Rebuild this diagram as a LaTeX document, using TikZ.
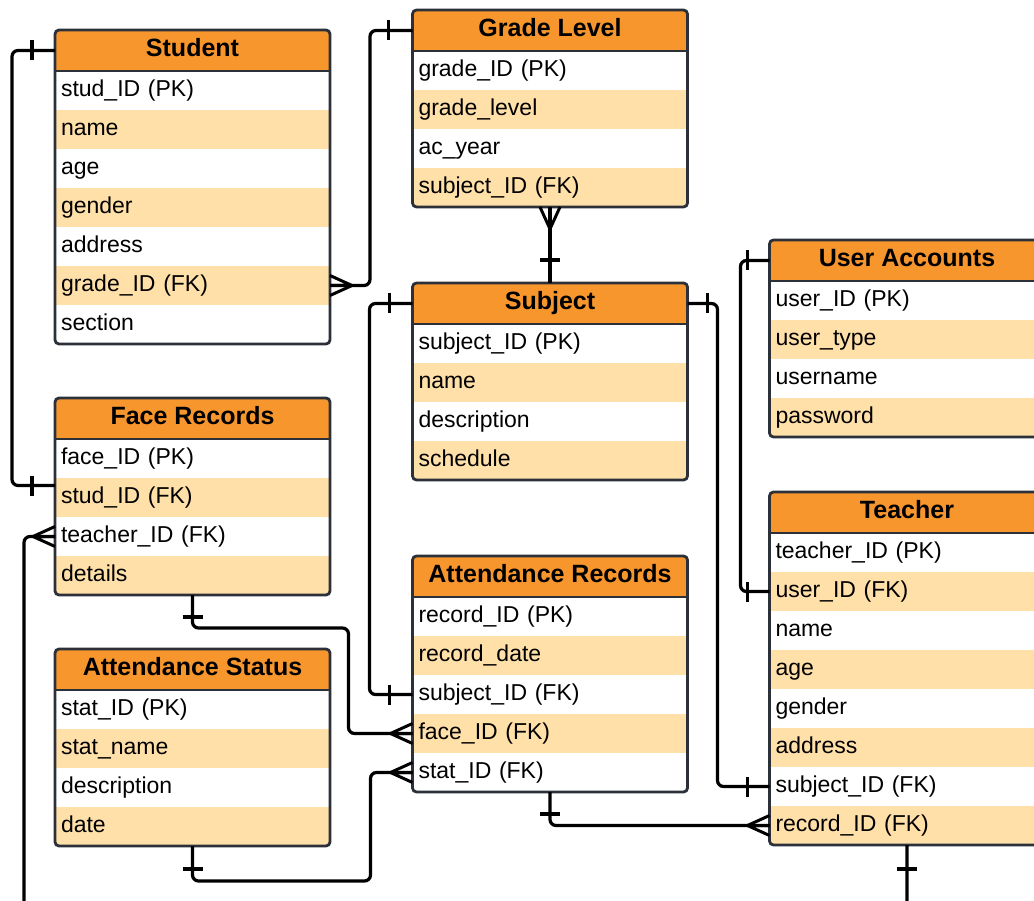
\documentclass[tikz,border=0pt]{standalone}
\usepackage{fontspec}
\setmainfont{Liberation Sans}
\usetikzlibrary{positioning,fit}

\definecolor{headfill}{HTML}{F8962E}
\definecolor{rowfill}{HTML}{FFE0A9}
\definecolor{framecol}{HTML}{2C3038}

\begin{document}
\begin{tikzpicture}[
		x=1pt, y=-1pt,
		head/.style     = {fill=headfill, rounded corners=4pt, minimum width=275pt, minimum height=41pt, text height=18pt, text depth=6pt, inner sep=0pt, outer sep=0pt, font=\fontsize{25}{28}\selectfont\bfseries},
		field/.style    = {minimum width=275pt, minimum height=39pt, text width=263pt, text height=17pt, text depth=5pt, inner xsep=6pt, inner ysep=0pt, outer sep=0pt, align=left, font=\fontsize{23}{26}\selectfont},
		stripe 1/.style = {fill=white},
		stripe 0/.style = {fill=rowfill},
		frame/.style    = {draw=framecol, line width=2.8pt, rounded corners=4pt, inner sep=0pt, outer sep=0pt},
		rel/.style      = {line width=3.2pt, rounded corners=6pt},
		bar/.pic        = {\draw[line width=3.2pt] (0,-10) -- (0,10);},
		crow/.pic       = {\draw[line width=3pt] (-22,0) -- (0,-10) (-22,0) -- (0,0) (-22,0) -- (0,10);}]
		
		\useasboundingbox (0,0) rectangle (1034,901);
		\clip (0,0) rectangle (1034,901);
		
		% Student table
		\node[head] (student) at (192.5,50.5) {Student};
		\foreach \f [count=\i] in {stud\_ID (PK), name, age, gender, address, grade\_ID (FK), section}{
			\pgfmathtruncatemacro\p{mod(\i,2)}
			\node[field, stripe \p] (student\i) at ([yshift={-39*(\i-0.5)}]student.south) {\f};
		}
		\node[frame, fit=(student)(student7)] (student-box) {};
		\draw[frame] (student.south west) -- (student.south east);
		
		% Grade Level table
		\node[head] (grade) at (550,30.5) {Grade Level};
		\foreach \f [count=\i] in {grade\_ID (PK), grade\_level, ac\_year, subject\_ID (FK)}{
			\pgfmathtruncatemacro\p{mod(\i,2)}
			\node[field, stripe \p] (grade\i) at ([yshift={-39*(\i-0.5)}]grade.south) {\f};
		}
		\node[frame, fit=(grade)(grade4)] (grade-box) {};
		\draw[frame] (grade.south west) -- (grade.south east);
		
		% Subject table
		\node[head] (subject) at (550,303.5) {Subject};
		\foreach \f [count=\i] in {subject\_ID (PK), name, description, schedule}{
			\pgfmathtruncatemacro\p{mod(\i,2)}
			\node[field, stripe \p] (subject\i) at ([yshift={-39*(\i-0.5)}]subject.south) {\f};
		}
		\node[frame, fit=(subject)(subject4)] (subject-box) {};
		\draw[frame] (subject.south west) -- (subject.south east);
		
		% User Accounts table
		\node[head] (user) at (907,260.5) {User Accounts};
		\foreach \f [count=\i] in {user\_ID (PK), user\_type, username, password}{
			\pgfmathtruncatemacro\p{mod(\i,2)}
			\node[field, stripe \p] (user\i) at ([yshift={-39*(\i-0.5)}]user.south) {\f};
		}
		\node[frame, fit=(user)(user4)] (user-box) {};
		\draw[frame] (user.south west) -- (user.south east);
		
		% Face Records table
		\node[head] (face) at (192.5,418.5) {Face Records};
		\foreach \f [count=\i] in {face\_ID (PK), stud\_ID (FK), teacher\_ID (FK), details}{
			\pgfmathtruncatemacro\p{mod(\i,2)}
			\node[field, stripe \p] (face\i) at ([yshift={-39*(\i-0.5)}]face.south) {\f};
		}
		\node[frame, fit=(face)(face4)] (face-box) {};
		\draw[frame] (face.south west) -- (face.south east);
		
		% Attendance Records table
		\node[head] (record) at (550,576.5) {Attendance Records};
		\foreach \f [count=\i] in {record\_ID (PK), record\_date, subject\_ID (FK), face\_ID (FK), stat\_ID (FK)}{
			\pgfmathtruncatemacro\p{mod(\i,2)}
			\node[field, stripe \p] (record\i) at ([yshift={-39*(\i-0.5)}]record.south) {\f};
		}
		\node[frame, fit=(record)(record5)] (record-box) {};
		\draw[frame] (record.south west) -- (record.south east);
		
		% Attendance Status table
		\node[head] (status) at (192.5,669.5) {Attendance Status};
		\foreach \f [count=\i] in {stat\_ID (PK), stat\_name, description, date}{
			\pgfmathtruncatemacro\p{mod(\i,2)}
			\node[field, stripe \p] (status\i) at ([yshift={-39*(\i-0.5)}]status.south) {\f};
		}
		\node[frame, fit=(status)(status4)] (status-box) {};
		\draw[frame] (status.south west) -- (status.south east);
		
		% Teacher table
		\node[head] (teacher) at (907,512.5) {Teacher};
		\foreach \f [count=\i] in {teacher\_ID (PK), user\_ID (FK), name, age, gender, address, subject\_ID (FK), record\_ID (FK)}{
			\pgfmathtruncatemacro\p{mod(\i,2)}
			\node[field, stripe \p] (teacher\i) at ([yshift={-39*(\i-0.5)}]teacher.south) {\f};
		}
		\node[frame, fit=(teacher)(teacher8)] (teacher-box) {};
		\draw[frame] (teacher.south west) -- (teacher.south east);
		
		% relationships, one side marked with a bar, many side with a crow's foot
		\draw[rel] (student.west) -- ++(-43,0) |- ([yshift=12pt]face2.west);
		\pic at ([xshift=-23pt]student.west) {bar};
		\pic at ([xshift=-23pt,yshift=12pt]face2.west) {bar};
		
		\draw[rel] (student6.east) -- ++(40,0) |- (grade.west);
		\pic[xscale=-1] at (student6.east) {crow};
		\pic at ([xshift=-24pt]grade.west) {bar};
		
		\draw[rel] (grade-box.south) -- (subject.north);
		\pic[rotate=90] at (grade-box.south) {crow};
		\pic[rotate=90] at ([yshift=23pt]subject.north) {bar};
		
		\draw[rel] (subject.west) -- ++(-43,0) |- (record3.west);
		\pic at ([xshift=-23pt]subject.west) {bar};
		\pic at ([xshift=-23pt]record3.west) {bar};
		
		\draw[rel] (subject.east) -- ++(30,0) |- (teacher7.west);
		\pic at ([xshift=20pt]subject.east) {bar};
		\pic at ([xshift=-22pt]teacher7.west) {bar};
		
		\draw[rel] (user.west) -- ++(-29,0) |- (teacher2.west);
		\pic at ([xshift=-22pt]user.west) {bar};
		\pic at ([xshift=-22pt]teacher2.west) {bar};
		
		\draw[rel] (face-box.south) -- ++(0,33) -- ++(156,0) |- (record4.west);
		\pic[rotate=90] at ([yshift=-22pt]face-box.south) {bar};
		\pic at (record4.west) {crow};
		
		\draw[rel] (status-box.south) -- ++(0,35) -- ++(178,0) |- (record5.west);
		\pic[rotate=90] at ([yshift=-23pt]status-box.south) {bar};
		\pic at (record5.west) {crow};
		
		\draw[rel] (record-box.south) |- (teacher8.west);
		\pic[rotate=90] at ([yshift=-22pt]record-box.south) {bar};
		\pic at (teacher8.west) {crow};
		
		\draw[rel] (teacher-box.south) -- ++(0,90) -| ([xshift=-31pt]face3.west) -- (face3.west);
		\pic[rotate=90] at ([yshift=-24pt]teacher-box.south) {bar};
		\pic at (face3.west) {crow};
		
	\end{tikzpicture}
\end{document}
